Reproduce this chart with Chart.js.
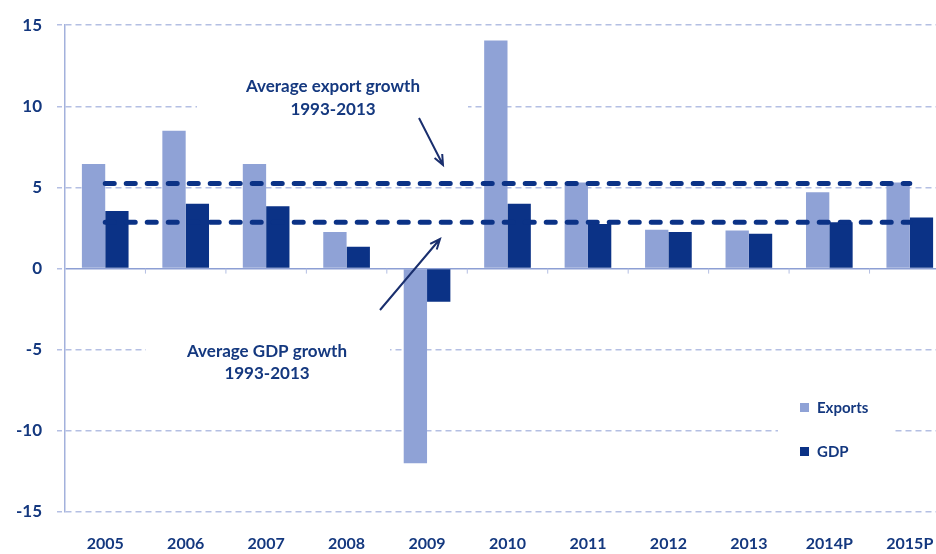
<!DOCTYPE html>
<html>
<head>
<meta charset="utf-8">
<script src="https://cdn.jsdelivr.net/npm/chart.js@4"></script>
<style>
    body { margin: 0; background: #fff; overflow: hidden; }
</style>
</head>
<body>
<canvas id="growthChart" width="952" height="554"></canvas>
<script>
var years = ['2005', '2006', '2007', '2008', '2009', '2010', '2011', '2012', '2013', '2014P', '2015P'];
var exportsGrowth = [6.45, 8.5, 6.45, 2.25, -12.0, 14.05, 5.3, 2.4, 2.35, 4.7, 5.3];
var gdpGrowth = [3.55, 4.0, 3.85, 1.35, -2.05, 4.0, 2.75, 2.25, 2.15, 2.85, 3.15];
var avgExport = 5.25;
var avgGdp = 2.85;
var yMin = -15, yMax = 15, yStep = 5;

var navy = '#0b3286';
var lightBlue = '#8fa2d6';
var textColor = '#14387f';
var gridColor = '#b4bfe3';

// arrows, text boxes and legend
var notes = {
    id: 'notes',
    beforeDatasetsDraw: function(chart) {
        var ctx = chart.ctx;
        ctx.save();
        ctx.fillStyle = '#fff';
        ctx.fillRect(197, 68, 271, 56);
        ctx.fillRect(146, 336, 244, 50);
        ctx.fillStyle = textColor;
        ctx.font = 'bold 17px Lato, "Open Sans", sans-serif';
        ctx.textAlign = 'center';
        ctx.textBaseline = 'middle';
        ctx.fillText('Average export growth', 333, 87);
        ctx.fillText('1993-2013', 333, 110);
        ctx.fillText('Average GDP growth', 267, 352);
        ctx.fillText('1993-2013', 267, 374);

        // small ticks under the zero line
        var x = chart.scales.x, y = chart.scales.y;
        var y0 = y.getPixelForValue(0);
        ctx.strokeStyle = gridColor;
        ctx.lineWidth = 1;
        for (var i = 1; i < years.length; i++) {
            var bx = (x.getPixelForTick(i - 1) + x.getPixelForTick(i)) / 2;
            ctx.beginPath();
            ctx.moveTo(bx, y0);
            ctx.lineTo(bx, y0 + 5);
            ctx.stroke();
        }
        ctx.restore();
    },
    afterDatasetsDraw: function(chart) {
        var ctx = chart.ctx;
        function arrow(x1, y1, x2, y2) {
            var a = Math.atan2(y2 - y1, x2 - x1);
            ctx.beginPath();
            ctx.moveTo(x1, y1);
            ctx.lineTo(x2, y2);
            ctx.moveTo(x2 - 11 * Math.cos(a - 0.4), y2 - 11 * Math.sin(a - 0.4));
            ctx.lineTo(x2, y2);
            ctx.lineTo(x2 - 11 * Math.cos(a + 0.4), y2 - 11 * Math.sin(a + 0.4));
            ctx.stroke();
        }
        ctx.save();
        ctx.strokeStyle = '#1a2f6e';
        ctx.lineWidth = 2;
        arrow(419, 118, 443, 165);
        arrow(380, 310, 440, 239);
        ctx.restore();
    },
    afterDraw: function(chart) {
        var ctx = chart.ctx;
        ctx.save();
        ctx.fillStyle = '#fff';
        ctx.fillRect(778, 392, 117, 76);
        ctx.font = 'bold 15px Lato, "Open Sans", sans-serif';
        ctx.textBaseline = 'middle';
        ctx.fillStyle = lightBlue;
        ctx.fillRect(800, 403, 9, 9);
        ctx.fillStyle = navy;
        ctx.fillRect(800, 447, 9, 9);
        ctx.fillStyle = textColor;
        ctx.fillText('Exports', 817, 408);
        ctx.fillText('GDP', 817, 452);
        ctx.restore();
    }
};

new Chart(document.getElementById('growthChart').getContext('2d'), {
    type: 'bar',
    data: {
        labels: years,
        datasets: [{
            type: 'line',
            label: 'Average export growth 1993-2013',
            data: years.map(function() { return avgExport; }),
            borderColor: navy,
            borderWidth: 5,
            borderDash: [9, 12],
            borderCapStyle: 'round',
            pointRadius: 0,
            fill: false,
            order: 0
        }, {
            type: 'line',
            label: 'Average GDP growth 1993-2013',
            data: years.map(function() { return avgGdp; }),
            borderColor: navy,
            borderWidth: 5,
            borderDash: [9, 12],
            borderCapStyle: 'round',
            pointRadius: 0,
            fill: false,
            order: 0
        }, {
            label: 'Exports',
            data: exportsGrowth,
            backgroundColor: lightBlue,
            barPercentage: 1.0,
            categoryPercentage: 0.58,
            order: 1
        }, {
            label: 'GDP',
            data: gdpGrowth,
            backgroundColor: navy,
            barPercentage: 1.0,
            categoryPercentage: 0.58,
            order: 1
        }]
    },
    options: {
        responsive: false,
        animation: false,
        layout: { padding: { top: 24, right: 2, left: 0, bottom: 0 } },
        plugins: {
            legend: { display: false },
            tooltip: { enabled: false }
        },
        scales: {
            x: {
                grid: { display: false },
                border: { display: false },
                ticks: {
                    color: textColor,
                    padding: 14,
                    maxRotation: 0,
                    font: { family: 'Lato, "Open Sans", sans-serif', size: 16, weight: 'bold' }
                },
                afterFit: function(scale) { scale.height = 42; }
            },
            y: {
                min: yMin,
                max: yMax,
                ticks: {
                    stepSize: yStep,
                    color: textColor,
                    padding: 15,
                    font: { family: 'Lato, "Open Sans", sans-serif', size: 17, weight: 'bold' }
                },
                grid: {
                    color: function(c) { return c.tick && c.tick.value === 0 ? '#8d9fd4' : gridColor; },
                    lineWidth: 1.5,
                    tickLength: 8,
                    tickColor: gridColor,
                    tickBorderDash: [5, 3]
                },
                border: {
                    display: true,
                    color: '#a3b1dc',
                    width: 1.5,
                    dash: function(c) { return c.tick && c.tick.value === 0 ? [] : [6, 4]; }
                },
                afterFit: function(scale) { scale.width = 65; }
            }
        }
    },
    plugins: [notes]
});
</script>
</body>
</html>
